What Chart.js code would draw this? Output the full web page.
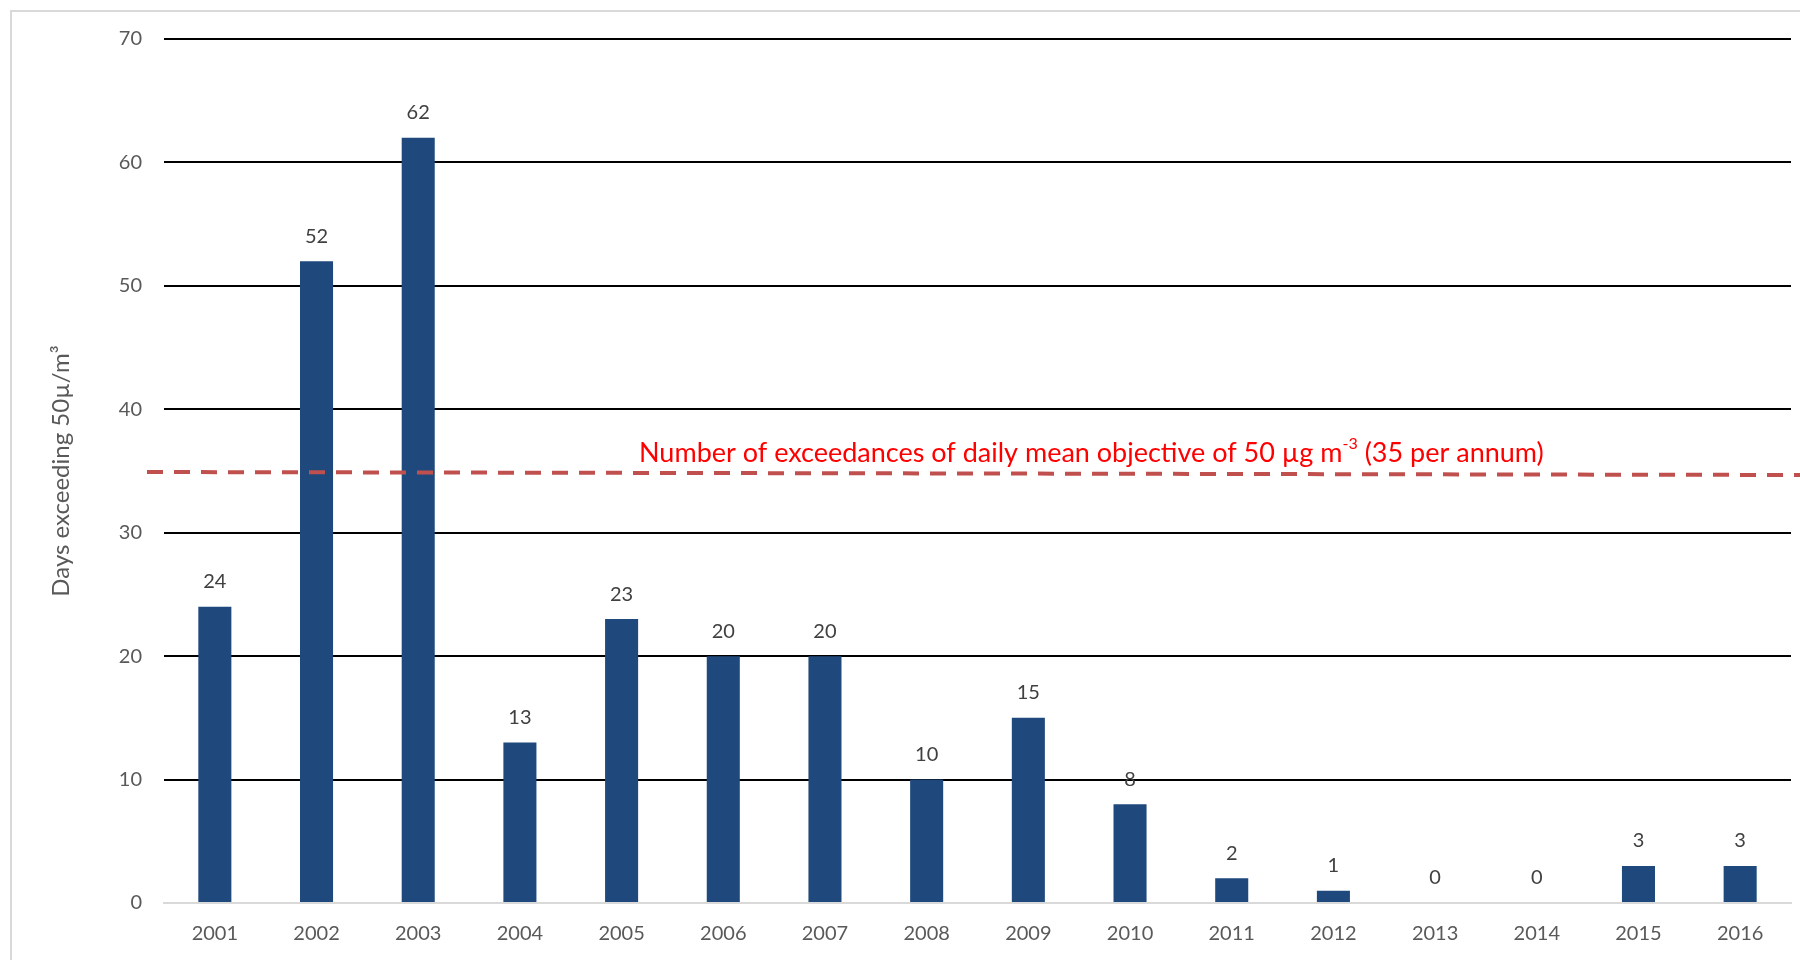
<!DOCTYPE html>
<html>
<head>
<meta charset="utf-8">
<script src="https://cdn.jsdelivr.net/npm/chart.js@4/dist/chart.umd.min.js"></script>
<style>
  html, body { margin: 0; padding: 0; background: #ffffff; }
  #wrap { width: 1800px; height: 960px; position: relative; }
</style>
</head>
<body>
<div id="wrap"><canvas id="c" width="1800" height="960"></canvas></div>
<script>
const years = ['2001','2002','2003','2004','2005','2006','2007','2008','2009','2010','2011','2012','2013','2014','2015','2016'];
const daysExceeding = [24, 52, 62, 13, 23, 20, 20, 10, 15, 8, 2, 1, 0, 0, 3, 3];
const thresholdValue = 35;
const thresholdLabelMain = 'Number of exceedances of daily mean objective of 50 µg m';
const thresholdLabelSup = '-3';
const thresholdLabelTail = ' (35 per annum)';
const yAxisTitle = 'Days exceeding 50µ/m³';
const yMin = 0, yMax = 70, yStep = 10;

const FONT = 'Lato, "Open Sans", sans-serif';

const framePlugin = {
  id: 'frame',
  beforeDraw(chart) {
    const ctx = chart.ctx;
    ctx.save();
    ctx.strokeStyle = '#D9D9D9';
    ctx.lineWidth = 2;
    ctx.beginPath();
    ctx.moveTo(11, chart.height);
    ctx.lineTo(11, 11);
    ctx.lineTo(chart.width, 11);
    ctx.stroke();
    ctx.restore();
  }
};

const labelsPlugin = {
  id: 'barLabels',
  afterDatasetsDraw(chart) {
    const ctx = chart.ctx;
    const meta = chart.getDatasetMeta(0);
    ctx.save();
    ctx.fillStyle = '#404040';
    ctx.font = '20px ' + FONT;
    ctx.textAlign = 'center';
    ctx.textBaseline = 'middle';
    meta.data.forEach((bar, i) => {
      ctx.fillText(String(daysExceeding[i]), bar.x, bar.y - 25);
    });
    ctx.restore();
  }
};

const thresholdPlugin = {
  id: 'threshold',
  afterDatasetsDraw(chart) {
    const ctx = chart.ctx;
    const y = chart.scales.y.getPixelForValue(thresholdValue);
    const area = chart.chartArea;
    ctx.save();
    ctx.strokeStyle = '#C0504D';
    ctx.lineWidth = 4;
    ctx.setLineDash([16, 11]);
    ctx.beginPath();
    ctx.moveTo(area.left - 17, y + 1);
    ctx.lineTo(chart.width, y + 4);
    ctx.stroke();
    ctx.setLineDash([]);
    // label
    const cx = chart.scales.x.getPixelForValue(8.62);
    const ty = y - 18;
    const mainFont = '27px ' + FONT;
    const supFont = '16px ' + FONT;
    ctx.font = mainFont;
    const w1 = ctx.measureText(thresholdLabelMain).width;
    const w3 = ctx.measureText(thresholdLabelTail).width;
    ctx.font = supFont;
    const w2 = ctx.measureText(thresholdLabelSup).width;
    const total = w1 + w2 + w3;
    let x = cx - total / 2;
    ctx.fillStyle = '#FF0000';
    ctx.textAlign = 'left';
    ctx.textBaseline = 'middle';
    ctx.font = mainFont;
    ctx.fillText(thresholdLabelMain, x, ty);
    x += w1;
    ctx.font = supFont;
    ctx.fillText(thresholdLabelSup, x, ty - 9);
    x += w2;
    ctx.font = mainFont;
    ctx.fillText(thresholdLabelTail, x, ty);
    ctx.restore();
  }
};

new Chart(document.getElementById('c'), {
  type: 'bar',
  data: {
    labels: years,
    datasets: [{
      data: daysExceeding,
      backgroundColor: '#1F497D',
      borderWidth: 0,
      categoryPercentage: 1.0,
      barPercentage: 0.325
    }]
  },
  options: {
    responsive: false,
    animation: false,
    devicePixelRatio: 1,
    layout: { padding: { left: 0, top: 39, right: 9, bottom: 0 } },
    plugins: {
      legend: { display: false },
      tooltip: { enabled: false },
      title: { display: false }
    },
    scales: {
      x: {
        grid: { display: false, drawTicks: false },
        border: { display: true, color: '#D9D9D9', width: 2 },
        ticks: {
          color: '#595959',
          font: { family: FONT, size: 20 },
          padding: 19,
          maxRotation: 0
        },
        afterFit(scale) { scale.height = 57; }
      },
      y: {
        min: yMin,
        max: yMax,
        grid: {
          drawTicks: false,
          lineWidth: 2,
          color: (c) => (c.tick && c.tick.value === 0) ? '#D9D9D9' : '#000000'
        },
        border: { display: false },
        ticks: {
          stepSize: yStep,
          color: '#595959',
          font: { family: FONT, size: 20 },
          padding: 22
        },
        title: {
          display: true,
          text: yAxisTitle,
          color: '#595959',
          font: { family: FONT, size: 24 },
          padding: { top: 47, bottom: 0 }
        },
        afterFit(scale) { scale.width = 164; }
      }
    }
  },
  plugins: [framePlugin, labelsPlugin, thresholdPlugin]
});
</script>
</body>
</html>
